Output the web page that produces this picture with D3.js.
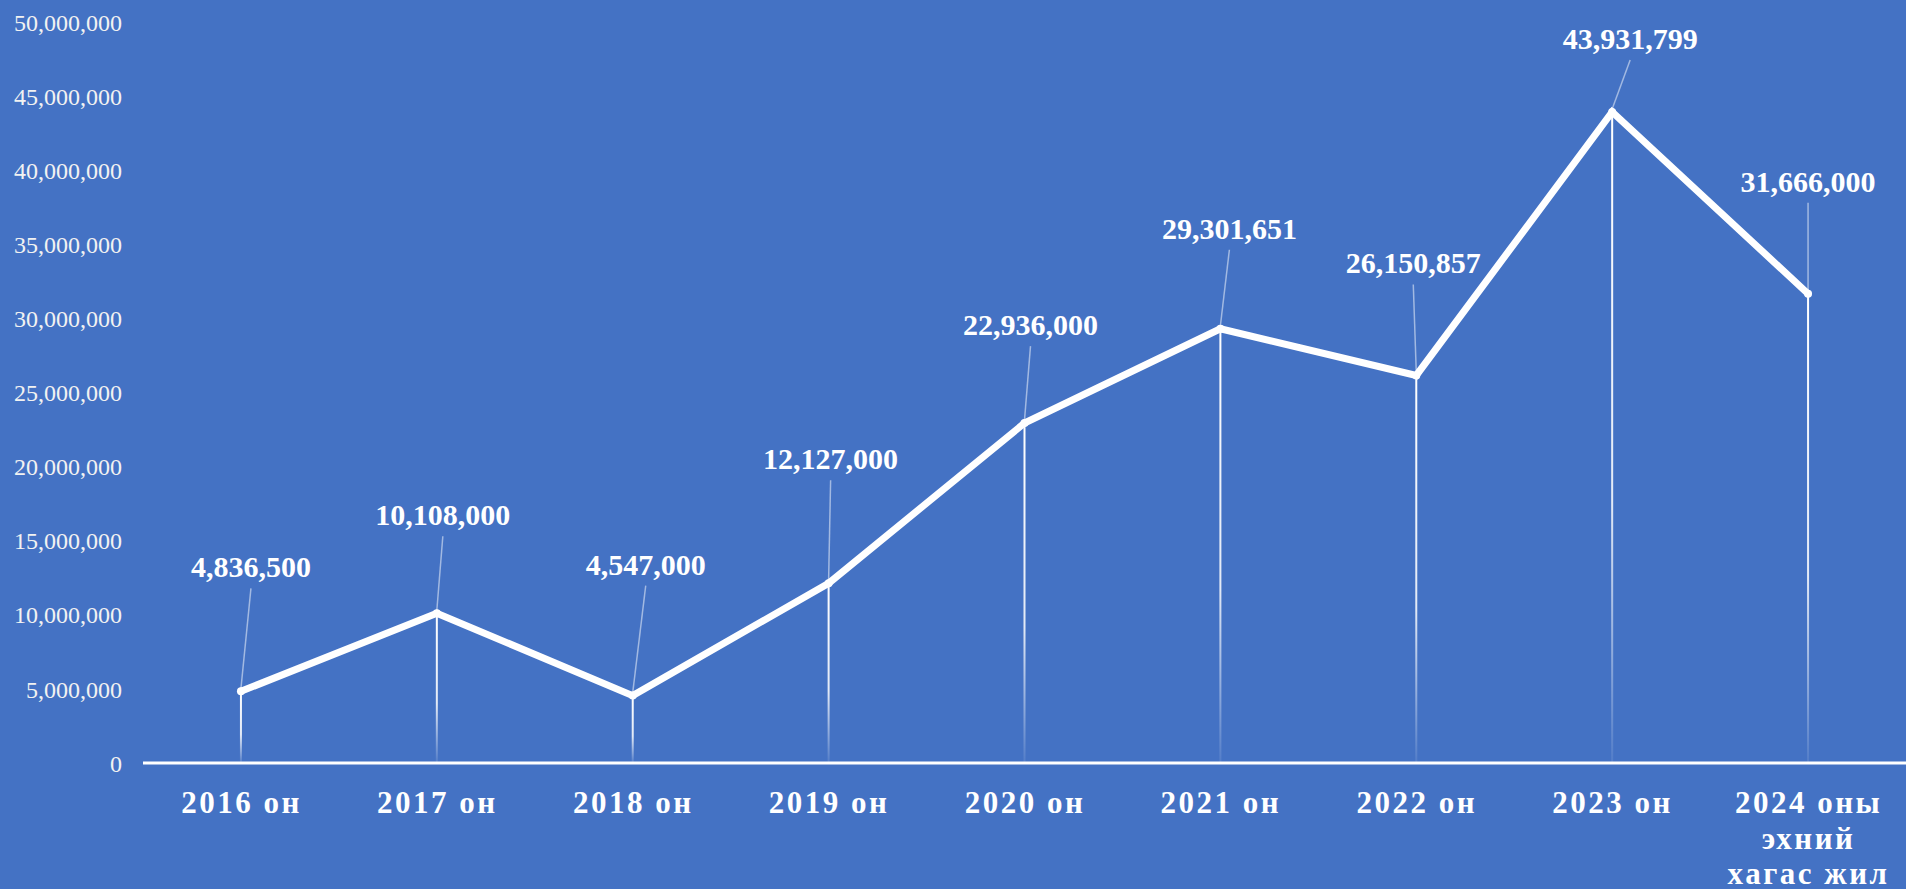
<!DOCTYPE html>
<html>
<head>
<meta charset="utf-8">
<script src="https://cdn.jsdelivr.net/npm/d3@7"></script>
<style>
  html, body { margin: 0; padding: 0; background: #4472C4; }
  svg { display: block; }
</style>
</head>
<body>
<svg id="chart" width="1906" height="889"></svg>
<script>
// ---- data ----
const categories = ["2016 он", "2017 он", "2018 он", "2019 он", "2020 он", "2021 он", "2022 он", "2023 он", "2024 оны эхний хагас жил"];
const values = [4836500, 10108000, 4547000, 12127000, 22936000, 29301651, 26150857, 43931799, 31666000];
const yTicks = [0, 5000000, 10000000, 15000000, 20000000, 25000000, 30000000, 35000000, 40000000, 45000000, 50000000];

// ---- layout (label nudges relative to each point, px) ----
const labelNudge = [
  {dx: 10, dy: -114}, {dx: 6, dy: -88}, {dx: 13, dy: -121}, {dx: 2, dy: -114},
  {dx: 6, dy: -88}, {dx: 9, dy: -90}, {dx: -3, dy: -102}, {dx: 18, dy: -63}, {dx: 0, dy: -102}
];

(function () {
const W = 1906, H = 889;
const pLeft = 143, pRight = 1906, pTop = 22, pBottom = 763;
const svg = d3.select("#chart");

svg.append("rect").attr("width", W).attr("height", H).attr("fill", "#4472C4");

const x = d3.scalePoint().domain(categories).range([pLeft, pRight]).padding(0.5);
const y = d3.scaleLinear().domain([0, 50000000]).range([pBottom, pTop]);
const fmt = d3.format(",");

const defs = svg.append("defs");
const grad = defs.append("linearGradient").attr("id", "dropGrad")
  .attr("x1", 0).attr("y1", 0).attr("x2", 0).attr("y2", 1);
grad.append("stop").attr("offset", "0%").attr("stop-color", "#fff").attr("stop-opacity", 1);
grad.append("stop").attr("offset", "60%").attr("stop-color", "#fff").attr("stop-opacity", 0.85);
grad.append("stop").attr("offset", "100%").attr("stop-color", "#fff").attr("stop-opacity", 0.08);

// y axis
const yAxis = d3.axisLeft(y).tickValues(yTicks).tickFormat(fmt).tickSize(0).tickPadding(0);
const gy = svg.append("g").attr("transform", `translate(122,0)`).call(yAxis);
gy.select(".domain").remove();
gy.selectAll("text")
  .attr("fill", "#f2f2f2")
  .attr("font-family", "'Liberation Serif', 'Times New Roman', serif")
  .attr("font-size", 24)
  .attr("dy", "0.34em");

// drop lines
svg.append("g").selectAll("rect").data(values).join("rect")
  .attr("x", (d, i) => x(categories[i]) - 1)
  .attr("width", 2)
  .attr("y", d => y(d))
  .attr("height", d => pBottom - y(d))
  .attr("fill", "url(#dropGrad)");

// x axis
const xAxis = d3.axisBottom(x).tickSize(0).tickPadding(0);
const gx = svg.append("g").attr("transform", `translate(0,${pBottom})`).call(xAxis);
gx.select(".domain").attr("stroke", "#fff").attr("stroke-width", 3)
  .attr("d", `M${pLeft},0H${pRight}`);
gx.selectAll("text")
  .attr("fill", "#fff")
  .attr("font-family", "'Liberation Serif', 'Times New Roman', serif")
  .attr("font-weight", "bold")
  .attr("font-size", 31)
  .attr("letter-spacing", "2.5px")
  .attr("y", 50)
  .attr("dy", 0)
  .each(function() {
    const t = d3.select(this);
    const words = t.text().split(" ");
    t.text(null);
    const maxW = x.step() - 8;
    let lines = [], cur = [];
    const probe = t.append("tspan");
    words.forEach(w => {
      const test = cur.concat([w]).join(" ");
      probe.text(test);
      if (probe.node().getComputedTextLength() > maxW && cur.length) {
        lines.push(cur.join(" "));
        cur = [w];
      } else cur.push(w);
    });
    lines.push(cur.join(" "));
    probe.remove();
    lines.forEach((ln, k) => {
      t.append("tspan").attr("x", 0).attr("y", 50 + k * 35.5).text(ln);
    });
  });

// line
const line = d3.line().x((d, i) => x(categories[i])).y(d => y(d));
svg.append("path").datum(values)
  .attr("d", line)
  .attr("fill", "none")
  .attr("stroke", "#fff")
  .attr("stroke-width", 7)
  .attr("stroke-linejoin", "miter");

// markers
svg.append("g").selectAll("circle").data(values).join("circle")
  .attr("cx", (d, i) => x(categories[i]))
  .attr("cy", d => y(d))
  .attr("r", 4)
  .attr("fill", "#fff");

// leader lines and labels
const lg = svg.append("g");
values.forEach((v, i) => {
  const px = x(categories[i]), py = y(v);
  const lx = px + labelNudge[i].dx, ly = py + labelNudge[i].dy;
  lg.append("line")
    .attr("x1", lx).attr("y1", ly + 11)
    .attr("x2", px).attr("y2", py - 3)
    .attr("stroke", "#fff").attr("stroke-opacity", 0.5).attr("stroke-width", 1.5);
  lg.append("text")
    .attr("x", lx).attr("y", ly)
    .attr("text-anchor", "middle")
    .attr("fill", "#fff")
    .attr("font-family", "'Liberation Serif', 'Times New Roman', serif")
    .attr("font-weight", "bold")
    .attr("font-size", 30)
    .text(fmt(v));
});
})();
</script>
</body>
</html>
